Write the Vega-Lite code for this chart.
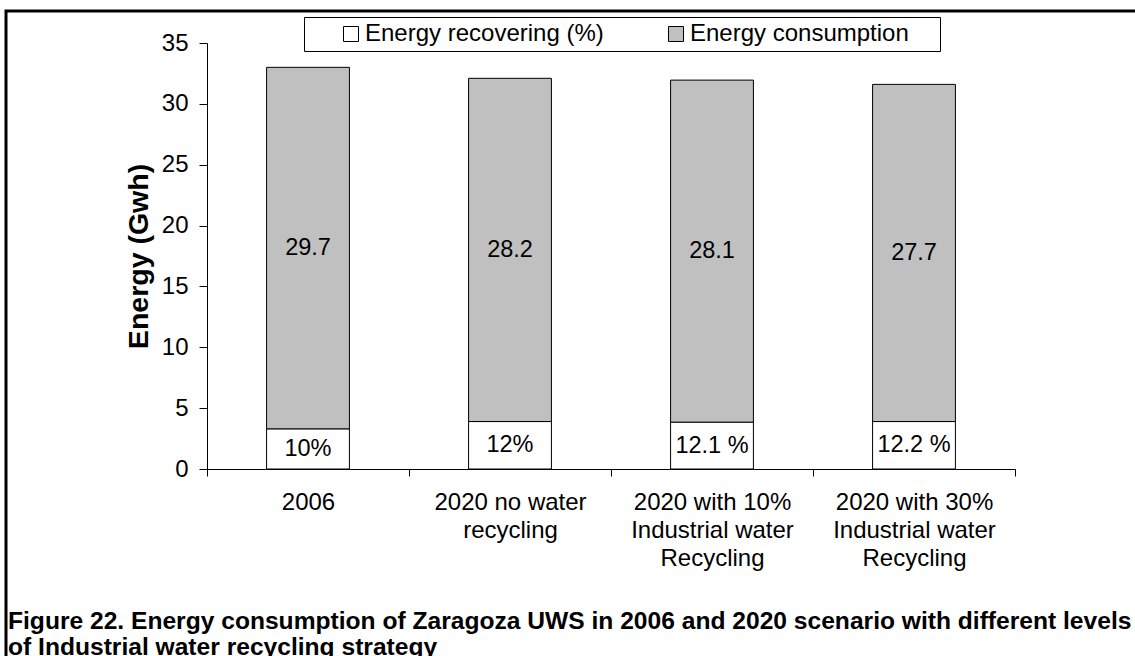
{
  "$schema": "https://vega.github.io/schema/vega-lite/v6.json",
  "width": 1140,
  "height": 680,
  "autosize": "none",
  "padding": {"left": 6, "top": 11, "right": 0, "bottom": 0},
  "background": "white",
  "config": {
    "font": "Liberation Sans",
    "view": {"stroke": "black", "strokeWidth": 3},
    "axis": {"grid": false, "domainColor": "black", "tickColor": "black", "labelColor": "black", "titleColor": "black", "labelFont": "Liberation Sans", "titleFont": "Liberation Sans", "domainWidth": 1, "tickWidth": 1}
  },
  "title": {
    "text": ["Figure 22. Energy consumption of Zaragoza UWS in 2006 and 2020 scenario with different levels", "of Industrial water recycling strategy"],
    "orient": "bottom", "anchor": "start", "frame": "group", "offset": -81, "dx": 2,
    "font": "Liberation Sans", "fontSize": 24.6, "fontWeight": "bold", "lineHeight": 26, "color": "black"
  },
  "data": {
    "values": [
      {"scenario": "2006", "series": "Energy recovering (%)", "value": 3.3, "label": "10%", "ord": 1},
      {"scenario": "2006", "series": "Energy consumption", "value": 29.7, "label": "29.7", "ord": 2},
      {"scenario": "2020 no water recycling", "series": "Energy recovering (%)", "value": 3.9, "label": "12%", "ord": 1},
      {"scenario": "2020 no water recycling", "series": "Energy consumption", "value": 28.2, "label": "28.2", "ord": 2},
      {"scenario": "2020 with 10% Industrial water Recycling", "series": "Energy recovering (%)", "value": 3.85, "label": "12.1 %", "ord": 1},
      {"scenario": "2020 with 10% Industrial water Recycling", "series": "Energy consumption", "value": 28.1, "label": "28.1", "ord": 2},
      {"scenario": "2020 with 30% Industrial water Recycling", "series": "Energy recovering (%)", "value": 3.9, "label": "12.2 %", "ord": 1},
      {"scenario": "2020 with 30% Industrial water Recycling", "series": "Energy consumption", "value": 27.7, "label": "27.7", "ord": 2}
    ]
  },
  "encoding": {
    "x": {
      "field": "scenario", "type": "nominal",
      "sort": ["2006", "2020 no water recycling", "2020 with 10% Industrial water Recycling", "2020 with 30% Industrial water Recycling"],
      "scale": {"range": [201, 1009], "paddingInner": 0, "paddingOuter": 0},
      "axis": {
        "title": null, "orient": "bottom", "offset": -222, "tickBand": "extent", "tickSize": 7,
        "labelPadding": 14, "labelFontSize": 24, "labelLineHeight": 28, "labelAngle": 0, "labelLimit": 400,
        "labelExpr": "datum.value == '2020 no water recycling' ? ['2020 no water', 'recycling'] : datum.value == '2020 with 10% Industrial water Recycling' ? ['2020 with 10%', 'Industrial water', 'Recycling'] : datum.value == '2020 with 30% Industrial water Recycling' ? ['2020 with 30%', 'Industrial water', 'Recycling'] : datum.label"
      }
    },
    "y": {
      "field": "value", "type": "quantitative", "stack": "zero",
      "scale": {"domain": [0, 35], "range": [458, 32], "nice": false},
      "axis": {"title": "Energy (Gwh)", "orient": "left", "offset": -201, "values": [0, 5, 10, 15, 20, 25, 30, 35], "tickSize": 8, "labelPadding": 11, "labelFontSize": 24, "titleFontSize": 28.5, "titleFontWeight": "bold", "titlePadding": 8}
    },
    "order": {"field": "ord", "type": "quantitative"}
  },
  "layer": [
    {
      "mark": {"type": "bar", "stroke": "black", "strokeWidth": 1, "width": {"band": 0.41}},
      "encoding": {
        "color": {
          "field": "series", "type": "nominal",
          "scale": {"domain": ["Energy recovering (%)", "Energy consumption"], "range": ["#ffffff", "#c0c0c0"]},
          "legend": {
            "orient": "none", "legendX": 298, "legendY": 6, "direction": "horizontal",
            "title": "\u00a0", "titleOrient": "right", "titlePadding": 26, "titleFontSize": 8,
            "symbolType": "square", "symbolSize": 225, "symbolStrokeColor": "black", "symbolStrokeWidth": 1, "symbolOpacity": 1,
            "symbolOffset": 30, "labelOffset": 2, "labelFontSize": 24, "labelColor": "black", "labelFont": "Liberation Sans", "labelLimit": 400,
            "columnPadding": 30, "padding": 5, "strokeColor": "black", "fillColor": "white"
          }
        }
      }
    },
    {
      "mark": {"type": "text", "fontSize": 23.5, "color": "black", "font": "Liberation Sans"},
      "encoding": {
        "y": {
          "field": "value", "type": "quantitative", "stack": "zero", "bandPosition": 0.5,
          "scale": {"domain": [0, 35], "range": [458, 32], "nice": false},
          "axis": {"title": "Energy (Gwh)", "orient": "left", "offset": -201, "values": [0, 5, 10, 15, 20, 25, 30, 35], "tickSize": 8, "labelPadding": 11, "labelFontSize": 24, "titleFontSize": 28.5, "titleFontWeight": "bold", "titlePadding": 8}
        },
        "detail": {"field": "series"},
        "text": {"field": "label"}
      }
    }
  ]
}
